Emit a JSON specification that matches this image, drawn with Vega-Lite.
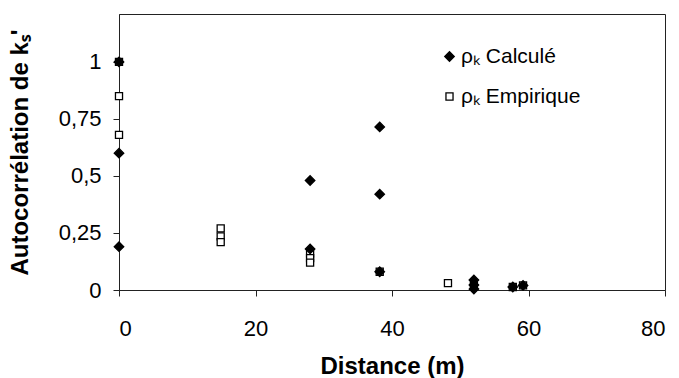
{
  "$schema": "https://vega.github.io/schema/vega-lite/v6.json",
  "width": 546,
  "height": 276,
  "autosize": {"type": "none"},
  "padding": {"left": 119, "top": 14, "right": 14, "bottom": 88},
  "background": "white",
  "config": {
    "font": "Liberation Sans",
    "view": {"stroke": "#222", "strokeWidth": 1},
    "legend": {
      "title": null,
      "orient": "none",
      "legendX": 320,
      "legendY": 32,
      "labelFontSize": 21,
      "labelColor": "black",
      "rowPadding": 18,
      "symbolStrokeWidth": 1.3,
      "symbolStrokeColor": "black",
      "labelOffset": 1
    }
  },
  "data": {
    "values": [
      {"distance": 0, "rho": 1.0, "serie": "ρₖ Empirique"},
      {"distance": 0, "rho": 0.85, "serie": "ρₖ Empirique"},
      {"distance": 0, "rho": 0.68, "serie": "ρₖ Empirique"},
      {"distance": 14.9, "rho": 0.27, "serie": "ρₖ Empirique"},
      {"distance": 14.9, "rho": 0.235, "serie": "ρₖ Empirique"},
      {"distance": 14.9, "rho": 0.21, "serie": "ρₖ Empirique"},
      {"distance": 28, "rho": 0.16, "serie": "ρₖ Empirique"},
      {"distance": 28, "rho": 0.14, "serie": "ρₖ Empirique"},
      {"distance": 28, "rho": 0.12, "serie": "ρₖ Empirique"},
      {"distance": 38.2, "rho": 0.08, "serie": "ρₖ Empirique"},
      {"distance": 48.2, "rho": 0.03, "serie": "ρₖ Empirique"},
      {"distance": 52, "rho": 0.02, "serie": "ρₖ Empirique"},
      {"distance": 57.7, "rho": 0.013, "serie": "ρₖ Empirique"},
      {"distance": 59.2, "rho": 0.02, "serie": "ρₖ Empirique"},
      {"distance": 0, "rho": 1.0, "serie": "ρₖ Calculé"},
      {"distance": 0, "rho": 0.6, "serie": "ρₖ Calculé"},
      {"distance": 0, "rho": 0.19, "serie": "ρₖ Calculé"},
      {"distance": 28, "rho": 0.48, "serie": "ρₖ Calculé"},
      {"distance": 28, "rho": 0.18, "serie": "ρₖ Calculé"},
      {"distance": 38.2, "rho": 0.715, "serie": "ρₖ Calculé"},
      {"distance": 38.2, "rho": 0.42, "serie": "ρₖ Calculé"},
      {"distance": 38.2, "rho": 0.08, "serie": "ρₖ Calculé"},
      {"distance": 52, "rho": 0.044, "serie": "ρₖ Calculé"},
      {"distance": 52, "rho": 0.022, "serie": "ρₖ Calculé"},
      {"distance": 52, "rho": 0.004, "serie": "ρₖ Calculé"},
      {"distance": 57.7, "rho": 0.013, "serie": "ρₖ Calculé"},
      {"distance": 59.2, "rho": 0.02, "serie": "ρₖ Calculé"}
    ]
  },
  "mark": {"type": "point", "strokeWidth": 1.3, "opacity": 1, "clip": false},
  "encoding": {
    "x": {
      "field": "distance",
      "type": "quantitative",
      "scale": {"domain": [0, 80], "nice": false},
      "axis": {
        "values": [0, 20, 40, 60, 80],
        "grid": false,
        "domainColor": "#222",
        "tickColor": "#222",
        "tickSize": 6,
        "labelFontSize": 22,
        "labelColor": "black",
        "labelPadding": 22,
        "title": "Distance (m)",
        "titleFontSize": 24,
        "titleFontWeight": "bold",
        "titleColor": "black",
        "titlePadding": 15
      }
    },
    "y": {
      "field": "rho",
      "type": "quantitative",
      "scale": {"domain": [0, 1.21], "nice": false},
      "axis": {
        "values": [0, 0.25, 0.5, 0.75, 1],
        "labelExpr": "replace(toString(datum.value), '.', ',')",
        "grid": false,
        "domainColor": "#222",
        "tickColor": "#222",
        "tickSize": 6,
        "labelFontSize": 22,
        "labelColor": "black",
        "labelPadding": 12,
        "title": "Autocorrélation de kₛ'",
        "titleFontSize": 24,
        "titleFontWeight": "bold",
        "titleColor": "black",
        "titlePadding": 26
      }
    },
    "shape": {
      "field": "serie",
      "type": "nominal",
      "scale": {"domain": ["ρₖ Calculé", "ρₖ Empirique"], "range": ["diamond", "square"]}
    },
    "fill": {
      "field": "serie",
      "type": "nominal",
      "scale": {"domain": ["ρₖ Calculé", "ρₖ Empirique"], "range": ["black", "white"]}
    },
    "stroke": {
      "field": "serie",
      "type": "nominal",
      "scale": {"domain": ["ρₖ Calculé", "ρₖ Empirique"], "range": ["black", "black"]}
    },
    "size": {
      "field": "serie",
      "type": "nominal",
      "scale": {"domain": ["ρₖ Calculé", "ρₖ Empirique"], "range": [90, 50]}
    }
  }
}
